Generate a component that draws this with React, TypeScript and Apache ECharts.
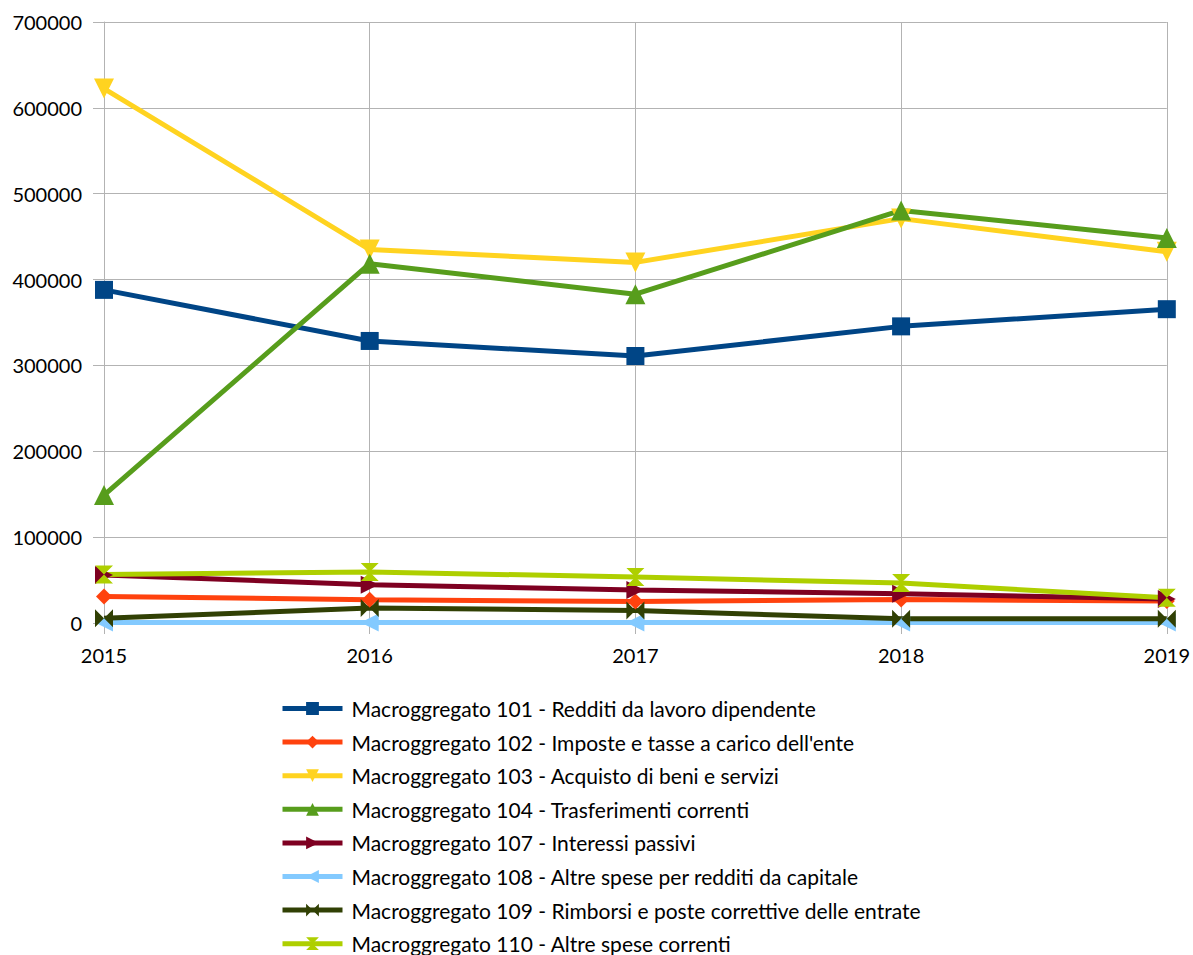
import React, { useEffect, useRef } from "react";
import * as echarts from "echarts";

const years = ["2015", "2016", "2017", "2018", "2019"];
const yTicks = [0, 100000, 200000, 300000, 400000, 500000, 600000, 700000];

const names = [
  "Macroggregato 101 - Redditi da lavoro dipendente",
  "Macroggregato 102 - Imposte e tasse a carico dell'ente",
  "Macroggregato 103 - Acquisto di beni e servizi",
  "Macroggregato 104 - Trasferimenti correnti",
  "Macroggregato 107 - Interessi passivi",
  "Macroggregato 108 - Altre spese per redditi da capitale",
  "Macroggregato 109 - Rimborsi e poste correttive delle entrate",
  "Macroggregato 110 - Altre spese correnti",
];

const m101 = [388000, 328500, 311000, 345500, 365500];
const m102 = [31000, 27000, 25000, 27500, 25500];
const m103 = [622500, 435000, 420000, 471000, 432500];
const m104 = [149000, 418500, 383000, 480500, 448500];
const m107 = [56000, 44500, 38500, 34000, 28000];
const m108 = [500, 500, 500, 500, 500];
const m109 = [5500, 17500, 14500, 5000, 5000];
const m110 = [56500, 59500, 53500, 46500, 29500];

const values = [m101, m102, m103, m104, m107, m108, m109, m110];
const colors = ["#004586", "#ff420e", "#ffd320", "#579d1c", "#7e0021", "#83caff", "#314004", "#aecf00"];

const SYM = {
  square: "rect",
  diamond: "diamond",
  down: "path://M0,0 L10,0 L5,10 Z",
  up: "path://M5,0 L10,10 L0,10 Z",
  right: "path://M0,0 L10,5 L0,10 Z",
  left: "path://M10,0 L10,10 L0,5 Z",
  bowtie: "path://M0,0 L5,5 L10,0 L10,10 L5,5 L0,10 Z",
  hourglass: "path://M0,0 L10,0 L5,5 L10,10 L0,10 L5,5 Z",
};
const symbols = [SYM.square, SYM.diamond, SYM.down, SYM.up, SYM.right, SYM.left, SYM.bowtie, SYM.hourglass];
const symbolSizes = [18, 16, 20, 20, 18, 18, 18, 18];

export default function App() {
  const ref = useRef<HTMLDivElement>(null);
  useEffect(() => {
    if (!ref.current) return;
    const chart = echarts.init(ref.current, undefined, { renderer: "svg" });
    const font = "Lato, 'Open Sans', sans-serif";
    chart.setOption({
      animation: false,
      backgroundColor: "#ffffff",
      textStyle: { fontFamily: font },
      grid: { left: 104, right: 23, top: 22, bottom: 332, containLabel: false },
      xAxis: {
        type: "category",
        data: years,
        boundaryGap: false,
        axisLine: { show: true, lineStyle: { color: "#b3b3b3", width: 1 } },
        axisTick: { show: true, length: 11, lineStyle: { color: "#b3b3b3" }, alignWithLabel: true },
        splitLine: { show: true, lineStyle: { color: "#b3b3b3", width: 1 } },
        axisLabel: { color: "#000", fontSize: 20, fontFamily: font, margin: 22 },
      },
      yAxis: {
        type: "value",
        min: yTicks[0],
        max: yTicks[yTicks.length - 1],
        interval: 100000,
        axisLine: { show: true, lineStyle: { color: "#b3b3b3", width: 1 } },
        axisTick: { show: true, length: 11, lineStyle: { color: "#b3b3b3" } },
        splitLine: { show: true, lineStyle: { color: "#b3b3b3", width: 1 } },
        axisLabel: {
          color: "#000",
          fontSize: 20,
          fontFamily: font,
          margin: 22,
          formatter: (v: number) => String(v),
        },
      },
      legend: {
        orient: "vertical",
        left: 280,
        top: 698,
        height: 290,
        padding: 0,
        itemWidth: 60,
        itemHeight: 16,
        itemGap: 12.6,
        lineStyle: { width: 5 },
        textStyle: { color: "#000", fontSize: 21, lineHeight: 20, fontFamily: font, padding: [0, 0, 0, 4] },
        data: names,
      },
      series: names.map((n, i) => ({
        name: n,
        type: "line",
        data: values[i],
        color: colors[i],
        symbol: symbols[i],
        symbolSize: symbolSizes[i],
        symbolKeepAspect: true,
        showAllSymbol: true,
        lineStyle: { width: 5, color: colors[i] },
        itemStyle: { color: colors[i] },
        emphasis: { disabled: true },
      })),
    });
    return () => chart.dispose();
  }, []);
  return <div ref={ref} style={{ position: "fixed", left: 0, top: 0, width: 1193, height: 955 }} />;
}
